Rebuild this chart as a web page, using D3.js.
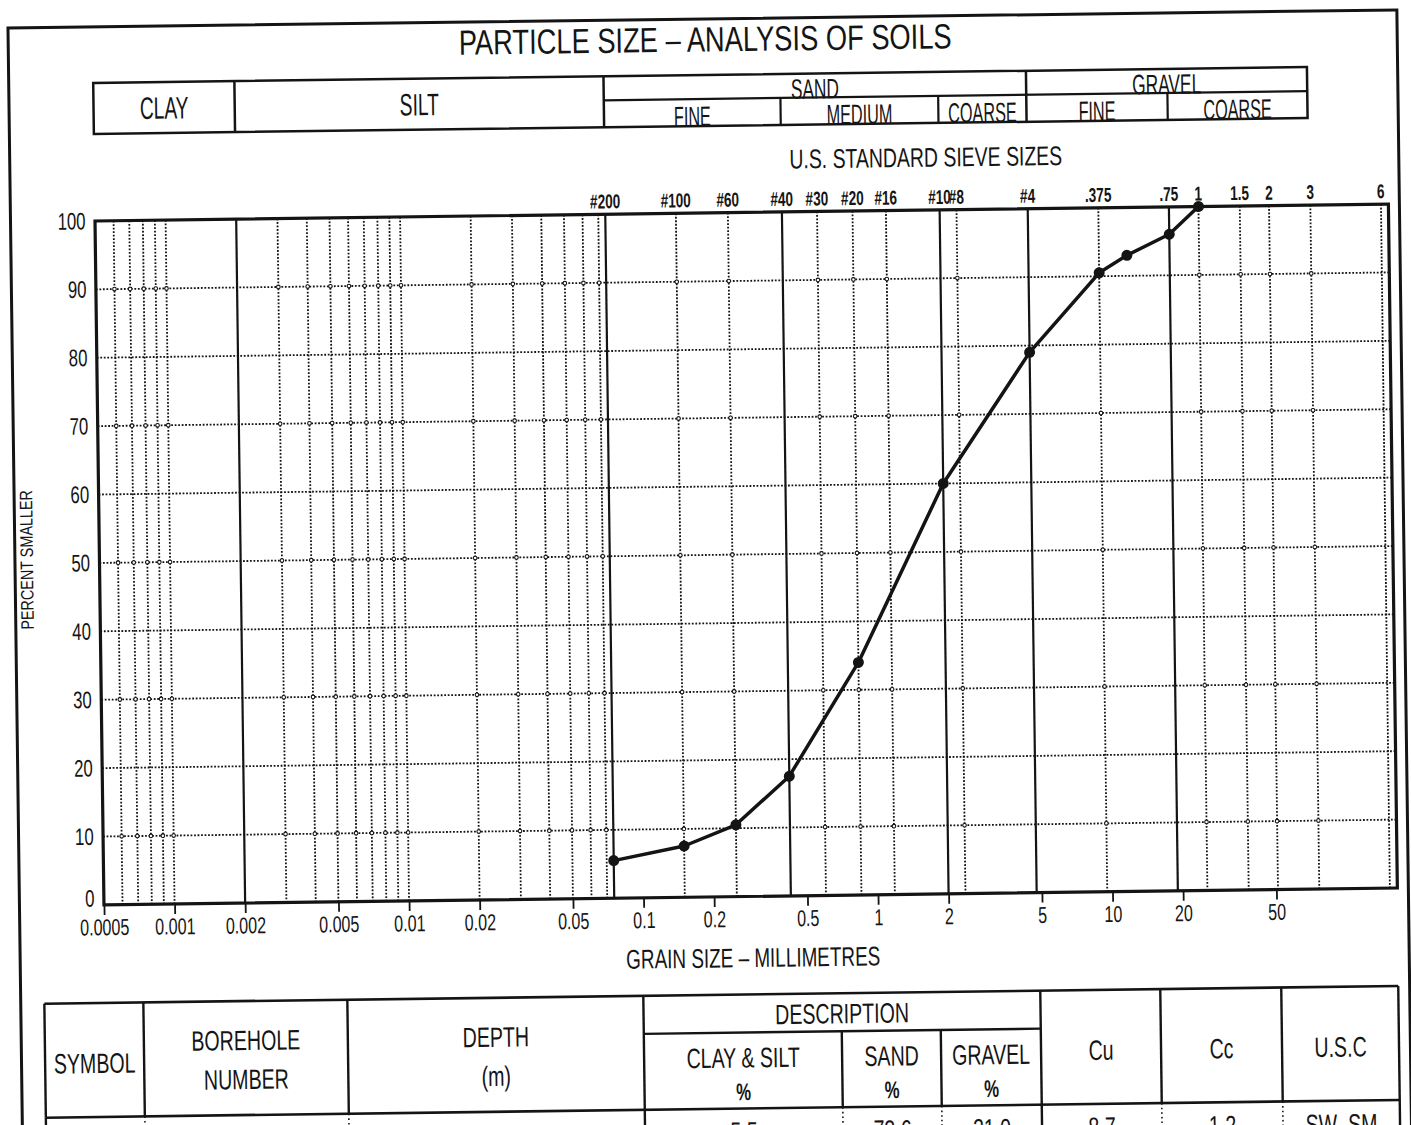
<!DOCTYPE html>
<html>
<head>
<meta charset="utf-8">
<script src="https://cdn.jsdelivr.net/npm/d3@7"></script>
<style>
  body { margin: 0; background: #fff; }
  svg { display: block; }
  text { font-family: "Liberation Sans", Arial, sans-serif; fill: #151515; }
</style>
</head>
<body>
<svg id="chart" width="1411" height="1125"></svg>
<script>
// sieve test result: grain size (mm) and percent passing
const grainSize      = [0.075, 0.15, 0.25, 0.425, 0.85, 2.0, 4.75, 9.5, 12.5, 19.0, 25.4]
const percentSmaller = [5.5,   7.5,  10.5, 17.5,  34,   60,  79,   90.5, 93,  96,   100]

// U.S. standard sieves along the top
const sieveLabels = ["#200","#100","#60","#40","#30","#20","#16","#10","#8","#4",".375",".75","1","1.5","2","3","6"]
const sieveSizes  = [0.075, 0.15, 0.25, 0.425, 0.6, 0.85, 1.18, 2.0, 2.36, 4.75, 9.5, 19.0, 25.4, 38.1, 50.8, 76.2, 152.4]

// grain size axis
const xTicks  = [0.0005, 0.001, 0.002, 0.005, 0.01, 0.02, 0.05, 0.1, 0.2, 0.5, 1, 2, 5, 10, 20, 50]
const yTicks  = [0, 10, 20, 30, 40, 50, 60, 70, 80, 90, 100]
const solidX  = [0.002, 0.075, 0.425, 2.0, 4.75, 19.0]
const dottedX = [0.0006, 0.0007, 0.0008, 0.0009, 0.001,
                 0.003, 0.004, 0.005, 0.006, 0.007, 0.008, 0.009, 0.01,
                 0.02, 0.03, 0.04, 0.05, 0.06, 0.07,
                 0.15, 0.25, 0.6, 0.85, 1.18, 2.36, 9.5, 25.4, 38.1, 50.8, 76.2, 152.4]
const dottedY = [10, 20, 30, 40, 50, 60, 70, 80, 90]

// soil classification bands (mm)
const soilNames  = ["CLAY", "SILT", "SAND", "GRAVEL"]
const soilBounds = [0.0005, 0.002, 0.075, 4.75, 75]
const subNames   = ["FINE", "MEDIUM", "COARSE", "FINE", "COARSE"]
const subBounds  = [0.075, 0.425, 2.0, 4.75, 19.0, 75]

// summary table
const headLines = [["SYMBOL"], ["BOREHOLE", "NUMBER"], ["DEPTH", "(m)"], ["CLAY & SILT", "%"],
                   ["SAND", "%"], ["GRAVEL", "%"], ["Cu"], ["Cc"], ["U.S.C"]]
const sampleRow = ["", "BH-1 BH20", "15.00 – 15.45", "5.5", "73.6", "21.0", "8.7", "1.2", "SW–SM"]

const ink = "#141414"
const svg = d3.select("#chart")
svg.append("rect").attr("width", 1411).attr("height", 1125).attr("fill", "#fff")
// the scanned sheet sits slightly skewed
const page = svg.append("g").attr("transform", "rotate(-0.75,705,560)")

const x = d3.scaleLog().domain([0.0005, 164]).range([99.5, 1393])
const y = d3.scaleLinear().domain([0, 100]).range([897, 213])

// narrow plotter-style lettering
const txt = (g, str, px, py, size, opt = {}) => {
  const sx = opt.sx || 0.7
  return g.append("text")
    .attr("transform", `translate(${px},${py})${opt.rot ? ` rotate(${opt.rot})` : ""} scale(${sx},1)`)
    .attr("text-anchor", opt.anchor || "middle")
    .attr("font-size", size)
    .attr("font-weight", opt.bold ? "bold" : null)
    .text(str)
}
const mid = (c, size) => c + size * 0.358

const line = (g, x1, y1, x2, y2, w, dash) => g.append("line")
  .attr("x1", x1).attr("y1", y1).attr("x2", x2).attr("y2", y2)
  .attr("stroke", ink).attr("stroke-width", w)
  .attr("stroke-dasharray", dash || null)

// sheet frame
page.append("rect").attr("x", 15).attr("y", 19).attr("width", 1389).attr("height", 1200)
  .attr("fill", "none").attr("stroke", ink).attr("stroke-width", 3)

txt(page, "PARTICLE SIZE – ANALYSIS OF SOILS", 712, mid(39, 35), 35, {sx: 0.78})

// classification strip
const band = page.append("g")
const bTop = 75, bMid = 99, bBot = 126
band.append("rect")
  .attr("x", x(soilBounds[0])).attr("y", bTop)
  .attr("width", x(soilBounds[4]) - x(soilBounds[0])).attr("height", bBot - bTop)
  .attr("fill", "none").attr("stroke", ink).attr("stroke-width", 2.5)
soilBounds.slice(1, 4).forEach(b => line(band, x(b), bTop, x(b), bBot, 2.5))
line(band, x(0.075), bMid, x(75), bMid, 2.2)
;[0.425, 2.0, 19.0].forEach(b => line(band, x(b), bMid, x(b), bBot, 2.2))
soilNames.forEach((n, i) => {
  const cx = (x(soilBounds[i]) + x(soilBounds[i + 1])) / 2
  if (i < 2) txt(band, n, cx, mid((bTop + bBot) / 2, 31), 31, {sx: 0.62})
  else txt(band, n, cx, bMid + 1, 28, {sx: 0.62})
})
subNames.forEach((n, i) => {
  const cx = (x(subBounds[i]) + x(subBounds[i + 1])) / 2
  txt(band, n, cx, bBot, 28, {sx: 0.58})
})

// sieve sizes
txt(page, "U.S. STANDARD SIEVE SIZES", 931, mid(160, 27), 27, {sx: 0.72})
const sieves = page.append("g")
sieveLabels.forEach((s, i) => txt(sieves, s, x(sieveSizes[i]), 207, 20, {sx: 0.68, bold: true}))

// grid
const grid = page.append("g")
const dots = "1.8,1.7"
grid.selectAll(".vdot").data(dottedX).join("line")
  .attr("x1", d => x(d)).attr("x2", d => x(d)).attr("y1", y(100)).attr("y2", y(0))
  .attr("stroke", ink).attr("stroke-width", 1.8).attr("stroke-dasharray", dots)
grid.selectAll(".hdot").data(dottedY).join("line")
  .attr("x1", x.range()[0]).attr("x2", x.range()[1]).attr("y1", d => y(d)).attr("y2", d => y(d))
  .attr("stroke", ink).attr("stroke-width", 1.8).attr("stroke-dasharray", dots)
grid.selectAll(".vsol").data(solidX).join("line")
  .attr("x1", d => x(d)).attr("x2", d => x(d)).attr("y1", y(100)).attr("y2", y(0))
  .attr("stroke", ink).attr("stroke-width", 2.2)
// little rings where dotted lines cross
const crossings = d3.cross(dottedX.filter(d => d < 152), dottedY.filter(d => d % 20 == 10))
grid.selectAll(".ring").data(crossings).join("circle")
  .attr("cx", d => x(d[0])).attr("cy", d => y(d[1])).attr("r", 1.8)
  .attr("fill", "#fff").attr("stroke", ink).attr("stroke-width", 1.1)

page.append("rect")
  .attr("x", x.range()[0]).attr("y", y(100))
  .attr("width", x.range()[1] - x.range()[0]).attr("height", y(0) - y(100))
  .attr("fill", "none").attr("stroke", ink).attr("stroke-width", 3.2)

// axes
const xAxis = page.append("g").attr("transform", `translate(0,${y(0)})`)
  .call(d3.axisBottom(x).tickValues(xTicks).tickFormat(d => String(d)).tickSize(10).tickPadding(4))
xAxis.select(".domain").remove()
xAxis.selectAll(".tick line").attr("stroke", ink).attr("stroke-width", 1.8)
xAxis.selectAll(".tick text").attr("font-size", 23).attr("fill", ink)
  .attr("font-family", "Liberation Sans, Arial, sans-serif").attr("transform", "scale(0.7,1)")

const yAxis = page.append("g").attr("transform", `translate(${x.range()[0]},0)`)
  .call(d3.axisLeft(y).tickValues(yTicks).tickSize(0).tickPadding(13.5))
yAxis.select(".domain").remove()
yAxis.selectAll(".tick text").attr("font-size", 24).attr("fill", ink)
  .attr("font-family", "Liberation Sans, Arial, sans-serif").attr("transform", "scale(0.7,1)")
  .attr("dy", d => d == 0 ? "0.05em" : "0.32em")

txt(page, "PERCENT SMALLER", 33, 551, 18, {rot: -90, sx: 0.8})
txt(page, "GRAIN SIZE – MILLIMETRES", 748, mid(958, 27), 27, {sx: 0.7})

// grading curve
const pts = grainSize.map((g, i) => [g, percentSmaller[i]])
page.append("path").datum(pts)
  .attr("d", d3.line().x(d => x(d[0])).y(d => y(d[1])))
  .attr("fill", "none").attr("stroke", ink).attr("stroke-width", 3.5)
  .attr("stroke-linejoin", "round")
page.selectAll(".pt").data(pts).join("circle")
  .attr("cx", d => x(d[0])).attr("cy", d => y(d[1])).attr("r", 5.5).attr("fill", ink)

// summary table
const tab = page.append("g")
const cols = [38.6, 137.6, 341.6, 637.6, 835.6, 934.6, 1034.6, 1154.6, 1275.6, 1392.6]
const tTop = 995, tSplit = 1033, tHead = 1109, tEnd = 1180
const cx = i => (cols[i] + cols[i + 1]) / 2
line(tab, cols[0], tTop, cols[9], tTop, 2.6)
line(tab, cols[0], tHead, cols[9], tHead, 2.6)
line(tab, cols[3], tSplit, cols[6], tSplit, 2.4)
cols.forEach((c, i) => {
  const inDesc = i == 4 || i == 5
  line(tab, c, inDesc ? tSplit : tTop, c, tHead, 2.4)
  const solid = [0, 3, 6, 9].includes(i)
  line(tab, c, tHead, c, tEnd, solid ? 2.4 : 1.6, solid ? null : "1.6,3")
})
txt(tab, "DESCRIPTION", (cols[3] + cols[6]) / 2, mid(1015, 28), 28)
headLines.forEach((ls, i) => {
  if (i >= 3 && i <= 5) {
    txt(tab, ls[0], cx(i), mid(1058, 28), 28)
    txt(tab, ls[1], cx(i), mid(1092, 24), 24, {bold: true})
  } else if (ls.length == 2) {
    txt(tab, ls[0], cx(i), mid(1034, 28), 28)
    txt(tab, ls[1], cx(i), mid(1073, 28), 28)
  } else {
    txt(tab, ls[0], cx(i), mid(1055, 28), 28)
  }
})
sampleRow.forEach((v, i) => txt(tab, v, cx(i), 1142, 28))
</script>
</body>
</html>
